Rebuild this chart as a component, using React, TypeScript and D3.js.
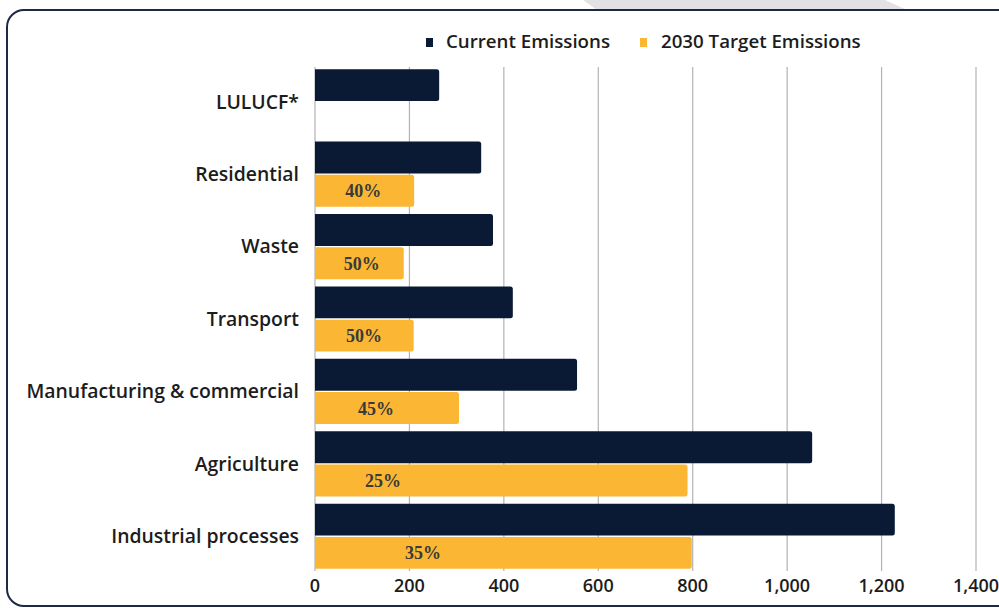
import React from "react";
import * as d3 from "d3";

const categories = [
  "LULUCF*",
  "Residential",
  "Waste",
  "Transport",
  "Manufacturing & commercial",
  "Agriculture",
  "Industrial processes",
];
const currentEmissions = [263, 352, 377, 419, 555, 1053, 1228];
const targetEmissions: (number | null)[] = [null, 210, 188, 209, 305, 789, 798];
const targetLabels: (string | null)[] = [null, "40%", "50%", "50%", "45%", "25%", "35%"];
// where each percentage label sits, in emission units along the axis
const targetLabelAt: (number | null)[] = [null, 102, 99, 104, 129, 144, 229];
const xTicks = [0, 200, 400, 600, 800, 1000, 1200, 1400];
const seriesNames = ["Current Emissions", "2030 Target Emissions"];

const W = 999;
const H = 608;
const DARK = "#0b1a34";
const GOLD = "#fbb733";
const SANS = "'Open Sans', 'Noto Sans', sans-serif";

export default function App() {
  const x = d3.scaleLinear().domain([0, 1400]).range([315, 976]);
  const y = d3
    .scaleBand<string>()
    .domain(categories)
    .range([67, 571])
    .paddingInner(0.1)
    .paddingOuter(0.03);
  const sub = d3
    .scaleBand<string>()
    .domain(["current", "target"])
    .range([0, y.bandwidth()])
    .paddingInner(0.04);
  const fmt = d3.format(",");

  const barPath = (x0: number, x1: number, y0: number, h: number, r: number) => {
    const p = d3.path();
    p.moveTo(x0, y0);
    p.lineTo(x1 - r, y0);
    p.arcTo(x1, y0, x1, y0 + r, r);
    p.lineTo(x1, y0 + h - r);
    p.arcTo(x1, y0 + h, x1 - r, y0 + h, r);
    p.lineTo(x0, y0 + h);
    p.closePath();
    return p.toString();
  };

  return (
    <svg
      width={W}
      height={H}
      style={{ position: "fixed", left: 0, top: 0, background: "#fff" }}
    >
      <polygon points="583,0 885,0 907,10 597,10" fill="#e2e2e4" />
      <rect
        x={7}
        y={10}
        width={1020}
        height={596}
        rx={17}
        ry={17}
        fill="none"
        stroke="#1e2a44"
        strokeWidth={2}
      />
      {/* gridlines */}
      {xTicks.map((t) => (
        <line
          key={"g" + t}
          x1={x(t)}
          x2={x(t)}
          y1={67}
          y2={571}
          stroke="#b3b3b3"
          strokeWidth={1.2}
        />
      ))}
      {/* bars */}
      {categories.map((c, i) => {
        const y0 = y(c)!;
        const tv = targetEmissions[i];
        const lab = targetLabels[i];
        const la = targetLabelAt[i];
        return (
          <g key={c}>
            <path
              d={barPath(x(0), x(currentEmissions[i]), y0 + sub("current")!, sub.bandwidth(), 2.5)}
              fill={DARK}
            />
            {tv != null && (
              <path
                d={barPath(x(0), x(tv), y0 + sub("target")!, sub.bandwidth(), 2.5)}
                fill={GOLD}
              />
            )}
            {lab && la != null && (
              <text
                x={x(la)}
                y={y0 + sub("target")! + sub.bandwidth() / 2}
                dy="0.36em"
                textAnchor="middle"
                fontFamily="'Liberation Serif', 'DejaVu Serif', serif"
                fontWeight={700}
                fontSize={18}
                fill="#3a3a3a"
              >
                {lab}
              </text>
            )}
            <text
              x={299}
              y={y0 + y.bandwidth() / 2}
              dy="0.35em"
              textAnchor="end"
              fontFamily={SANS}
              fontWeight={600}
              fontSize={19.4}
              fill="#1c1c1c"
            >
              {c}
            </text>
          </g>
        );
      })}
      {/* x tick labels */}
      {xTicks.map((t) => (
        <text
          key={"t" + t}
          x={x(t)}
          y={586}
          dy="0.35em"
          textAnchor="middle"
          fontFamily={SANS}
          fontWeight={600}
          fontSize={18}
          fill="#1c1c1c"
        >
          {fmt(t)}
        </text>
      ))}
      {/* legend */}
      <g>
        <rect x={426} y={38} width={7} height={9} fill={DARK} />
        <text x={446} y={41.5} dy="0.35em" fontFamily={SANS} fontWeight={600} fontSize={18.7} fill="#1c1c1c">
          {seriesNames[0]}
        </text>
        <rect x={640} y={38} width={7} height={9} fill={GOLD} />
        <text x={661} y={41.5} dy="0.35em" fontFamily={SANS} fontWeight={600} fontSize={18.7} fill="#1c1c1c">
          {seriesNames[1]}
        </text>
      </g>
    </svg>
  );
}
